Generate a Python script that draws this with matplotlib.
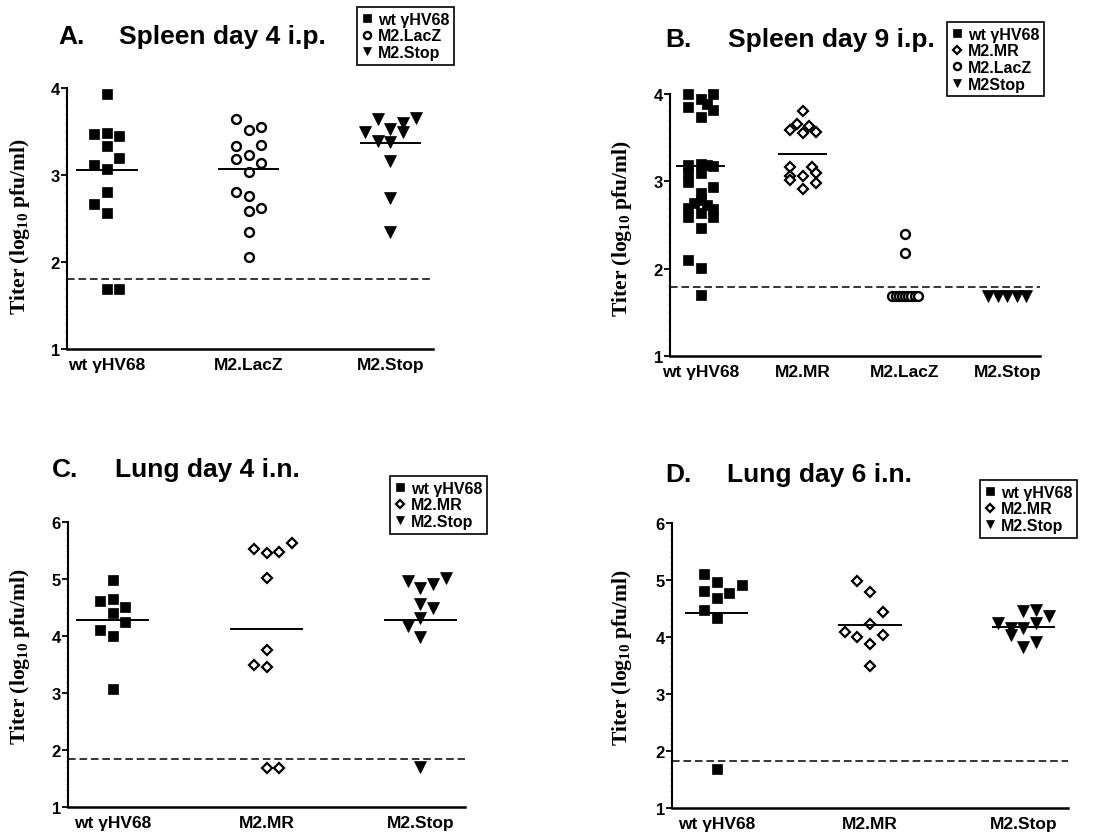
import matplotlib
matplotlib.use("Agg")
import matplotlib.pyplot as plt

plt.rcParams['font.family'] = ['Liberation Sans', 'DejaVu Sans']
plt.rcParams['font.weight'] = 'bold'
plt.rcParams['mathtext.fontset'] = 'custom'
plt.rcParams['mathtext.rm'] = 'Liberation Serif:bold'
plt.rcParams['mathtext.it'] = 'Liberation Serif:bold'
plt.rcParams['mathtext.bf'] = 'Liberation Serif:bold'

# ---- data (log10 pfu/ml), col = column inside the group ----
# A. Spleen day 4 i.p.
a_labels = ['wt γHV68', 'M2.LacZ', 'M2.Stop']
a_wt_y = [3.93, 3.47, 3.48, 3.45, 3.33, 3.20, 3.12, 3.07, 2.81, 2.67, 2.56, 1.69, 1.69]
a_wt_col = [0, -1, 0, 1, 0, 1, -1, 0, 0, -1, 0, 0, 1]
a_lacz_y = [3.64, 3.52, 3.55, 3.33, 3.34, 3.23, 3.18, 3.14, 3.04, 2.80, 2.76, 2.59, 2.62, 2.34, 2.06]
a_lacz_col = [-1, 0, 1, -1, 1, 0, -1, 1, 0, -1, 0, 0, 1, 0, 0]
a_stop_y = [3.64, 3.53, 3.60, 3.66, 3.50, 3.49, 3.39, 3.38, 3.16, 2.73, 2.34]
a_stop_col = [-1, 0, 1, 2, -2, 1, -1, 0, 0, 0, 0]
a_means = [3.06, 3.07, 3.37]
a_limit = 1.80

# B. Spleen day 9 i.p.
b_labels = ['wt γHV68', 'M2.MR', 'M2.LacZ', 'M2.Stop']
b_wt_y = [4.00, 4.00, 3.94, 3.85, 3.88, 3.82, 3.74,
          3.19, 3.20, 3.19, 3.18, 3.10, 3.09,
          2.99, 2.93, 2.87,
          2.79, 2.73, 2.75, 2.70, 2.68, 2.64, 2.59, 2.59,
          2.47, 2.10, 2.01, 1.70]
b_wt_col = [-1, 1, 0, -1, 0.5, 1, 0,
            -1, 0, 0.5, 1, -1, 0,
            -1, 1, 0,
            0, 0.5, -0.5, -1, 1, 0, -1, 1,
            0, -1, 0, 0]
b_mr_y = [3.81, 3.66, 3.59, 3.63, 3.55, 3.57,
          3.16, 3.16, 3.10, 3.06, 3.06, 3.02, 2.98, 2.91]
b_mr_col = [0, -0.5, -1, 0.5, 0, 1,
            -1, 0.75, 1, -1, 0, -1, 1, 0]
b_lacz_y = [2.40, 2.18, 1.69, 1.69, 1.69, 1.69, 1.69, 1.69, 1.69, 1.69, 1.69]
b_lacz_col = [0, 0, -1, -0.75, -0.5, -0.25, 0, 0.25, 0.5, 0.75, 1]
b_stop_y = [1.69, 1.69, 1.69, 1.69, 1.69]
b_stop_col = [-1.5, -0.75, 0, 0.75, 1.5]
b_means = [3.18, 3.31, None, None]
b_limit = 1.79

# C. Lung day 4 i.n.
c_labels = ['wt γHV68', 'M2.MR', 'M2.Stop']
c_wt_y = [4.98, 4.62, 4.65, 4.51, 4.40, 4.25, 4.10, 4.00, 3.07]
c_wt_col = [0, -1, 0, 1, 0, 1, -1, 0, 0]
c_mr_y = [5.52, 5.45, 5.48, 5.63, 5.01, 3.76, 3.49, 3.46, 1.69, 1.69]
c_mr_col = [-1, 0, 1, 2, 0, 0, -1, 0, 0, 1]
c_stop_y = [4.97, 4.85, 4.92, 5.01, 4.57, 4.50, 4.31, 4.17, 3.99, 1.70]
c_stop_col = [-1, 0, 1, 2, 0, 1, 0, -1, 0, 0]
c_means = [4.28, 4.12, 4.28]
c_limit = 1.85

# D. Lung day 6 i.n.
d_labels = ['wt γHV68', 'M2.MR', 'M2.Stop']
d_wt_y = [5.11, 4.96, 4.81, 4.78, 4.92, 4.69, 4.47, 4.33, 1.69]
d_wt_col = [-1, 0, -1, 1, 2, 0, -1, 0, 0]
d_mr_y = [4.99, 4.79, 4.44, 4.23, 4.09, 4.00, 4.04, 3.88, 3.50]
d_mr_col = [-1, 0, 1, 0, -2, -1, 1, 0, 0]
d_stop_y = [4.24, 4.16, 4.45, 4.47, 4.36, 4.16, 4.25, 4.03, 3.92, 3.82]
d_stop_col = [-2, -1, 0, 1, 2, 0, 1, -1, 1, 0]
d_means = [4.42, 4.21, 4.17]
d_limit = 1.83

# marker styles
STYLE = {
    'wt': dict(marker='s', ms=7.2, mfc='black', mec='black', mew=0.5),
    'lacz': dict(marker='o', ms=6.4, mfc='white', mec='black', mew=1.7),
    'mr': dict(marker='D', ms=5.3, mfc='white', mec='black', mew=1.6),
    'stop': dict(marker='v', ms=8.0, mfc='black', mec='black', mew=0.5),
}

W, H = 1114, 837


def px_axes(left, right, top, bottom):
    return [left / W, 1 - bottom / H, (right - left) / W, (bottom - top) / H]


def draw_panel(ax, groups, labels, means, limit, step, half, xlim, ylim):
    handles = []
    for i, (kind, ys, cols) in enumerate(groups):
        xs = [i + c * step for c in cols]
        h, = ax.plot(xs, ys, ls='none', **STYLE[kind], zorder=3, clip_on=False)
        handles.append(h)
    for i, m in enumerate(means):
        if m is not None:
            ax.plot([i - half, i + half], [m, m], color='black', lw=1.4, zorder=4)
    ax.axhline(limit, color='black', lw=1.1, dashes=(5, 2.5), zorder=2)
    ax.set_xlim(*xlim)
    ax.set_ylim(*ylim)
    ax.set_xticks(range(len(labels)))
    ax.set_xticklabels(labels, fontsize=12.5, fontweight='bold')
    ax.tick_params(axis='x', length=0, pad=6)
    ax.set_yticks(range(int(ylim[0]), int(ylim[1]) + 1))
    ax.set_yticks([v / 10 for v in range(int(ylim[0] * 10), int(ylim[1] * 10) + 1)], minor=True)
    ax.tick_params(axis='y', which='major', length=4, width=1.3, pad=1, labelsize=12)
    ax.tick_params(axis='y', which='minor', length=2, width=0.4, color='#bbbbbb')
    for lab in ax.get_yticklabels():
        lab.set_fontweight('bold')
    for s in ['top', 'right']:
        ax.spines[s].set_visible(False)
    ax.spines['left'].set_linewidth(1.5)
    ax.spines['bottom'].set_linewidth(1.8)
    return handles


fig = plt.figure(figsize=(W / 100, H / 100), dpi=100)

ylab = r'Titer (log$_{10}$ pfu/ml)'

# panel A
ax_a = fig.add_axes(px_axes(67, 433, 89, 350))
h_a = draw_panel(ax_a, [('wt', a_wt_y, a_wt_col), ('lacz', a_lacz_y, a_lacz_col),
                        ('stop', a_stop_y, a_stop_col)],
                 a_labels, a_means, a_limit, 0.089, 0.21, (-0.28, 2.30), (1, 4))
# panel B
ax_b = fig.add_axes(px_axes(670, 1040, 95, 357))
h_b = draw_panel(ax_b, [('wt', b_wt_y, b_wt_col), ('mr', b_mr_y, b_mr_col),
                        ('lacz', b_lacz_y, b_lacz_col), ('stop', b_stop_y, b_stop_col)],
                 b_labels, b_means, b_limit, 0.124, 0.23, (-0.30, 3.32), (1, 4))
# panel C
ax_c = fig.add_axes(px_axes(68, 465, 523, 808))
h_c = draw_panel(ax_c, [('wt', c_wt_y, c_wt_col), ('mr', c_mr_y, c_mr_col),
                        ('stop', c_stop_y, c_stop_col)],
                 c_labels, c_means, c_limit, 0.082, 0.23, (-0.29, 2.29), (1, 6))
# panel D
ax_d = fig.add_axes(px_axes(672, 1068, 524, 809))
h_d = draw_panel(ax_d, [('wt', d_wt_y, d_wt_col), ('mr', d_mr_y, d_mr_col),
                        ('stop', d_stop_y, d_stop_col)],
                 d_labels, d_means, d_limit, 0.083, 0.20, (-0.29, 2.29), (1, 6))

# titles
titles = [('A.', 'Spleen day 4 i.p.', 58, 119, 37),
          ('B.', 'Spleen day 9 i.p.', 665, 728, 40),
          ('C.', 'Lung day 4 i.n.', 52, 115, 470),
          ('D.', 'Lung day 6 i.n.', 665, 727, 475)]
for letter, text, xl, xt, yc in titles:
    fig.text(xl / W, 1 - yc / H, letter, fontsize=19, fontweight='bold', va='center', ha='left')
    fig.text(xt / W, 1 - yc / H, text, fontsize=19, fontweight='bold', va='center', ha='left')

# y labels
for xc, yc in [(20, 227), (622, 229), (20, 657), (622, 658)]:
    fig.text(xc / W, 1 - yc / H, ylab, rotation=90, va='center', ha='center',
             fontsize=15.5, family='Liberation Serif', fontweight='bold')

# legends
leg_specs = [(h_a, ['wt γHV68', 'M2.LacZ', 'M2.Stop'], 454, 8),
             (h_b, ['wt γHV68', 'M2.MR', 'M2.LacZ', 'M2Stop'], 1044, 23),
             (h_c, ['wt γHV68', 'M2.MR', 'M2.Stop'], 487, 477),
             (h_d, ['wt γHV68', 'M2.MR', 'M2.Stop'], 1077, 481)]
for handles, labels, xr, yt in leg_specs:
    leg = fig.legend(handles, labels, loc='upper right', bbox_to_anchor=(xr / W, 1 - yt / H),
                     fancybox=False, edgecolor='black', framealpha=1, markerscale=0.8,
                     handlelength=0.6, handletextpad=0.4, labelspacing=0.1, borderpad=0.3,
                     borderaxespad=0, prop={'weight': 'bold', 'size': 11.5})
    leg.get_frame().set_linewidth(1.2)

fig.savefig('out.png', dpi=100)
plt.close(fig)
